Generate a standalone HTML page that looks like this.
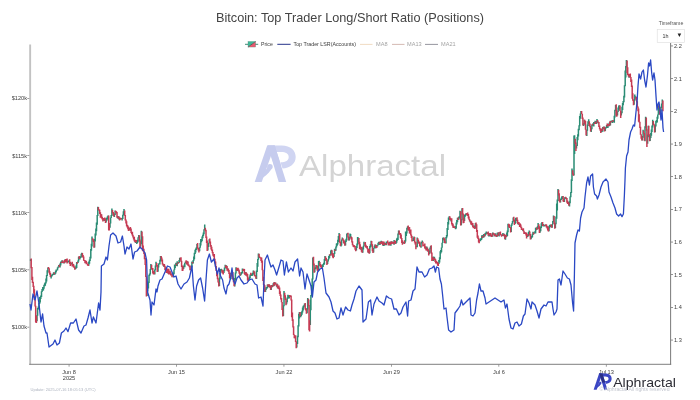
<!DOCTYPE html>
<html lang="en">
<head>
<meta charset="utf-8">
<title>Bitcoin: Top Trader Long/Short Ratio (Positions)</title>
<style>
html,body{margin:0;padding:0;background:#fff;}
body{width:700px;height:400px;overflow:hidden;position:relative;font-family:"Liberation Sans",sans-serif;}
svg{position:absolute;left:0;top:0;display:block;will-change:transform;}
.tk{font-family:"Liberation Sans",sans-serif;font-size:5.6px;fill:#3c3c3c;}
.title{font-family:"Liberation Sans",sans-serif;font-size:12.6px;fill:#444;}
.lg{font-family:"Liberation Sans",sans-serif;font-size:5.6px;fill:#3a3a3a;}
.lgm{font-family:"Liberation Sans",sans-serif;font-size:5.6px;fill:#a4a4a4;}
</style>
</head>
<body>
<svg width="700" height="400" viewBox="0 0 700 400">
<rect width="700" height="400" fill="#ffffff"/>
<!-- watermark -->
<g transform="translate(254.7,145.5) scale(1.0)">
<path d="M12.5 0 L20 0 L7 36.5 L0 36.5 Z" fill="#c6ccee"/>
<path d="M4 30.5 C8 27.5 11 25 13.5 21 L16.5 24 C13.5 28.5 9 32 5 34 Z" fill="#c6ccee"/>
<circle cx="15.2" cy="21.2" r="2.8" fill="#c6ccee"/>
<path d="M18.5 0 L27 0 C36 0 41 5 41 11.5 C41 18.5 35 22.5 27.8 23 L25.8 16.8 C31 16.8 34 15 34 11.5 C34 8 31 6.5 26.5 6.5 L20.5 6.5 Z" fill="#d0d5f2"/>
<path d="M13 0 L20 0 L31.5 36.5 L24 36.5 Z" fill="#c6ccee"/>
<path d="M13 0 L20 0 L26.5 20.5 L19.6 20.5 Z" fill="#c6ccee"/>
</g>
<text x="299" y="175.6" font-family="Liberation Sans, sans-serif" font-size="29.5" fill="#d4d4d4" textLength="147" lengthAdjust="spacingAndGlyphs">Alphractal</text>
<!-- title -->
<text x="350" y="22" text-anchor="middle" class="title" textLength="268" lengthAdjust="spacingAndGlyphs">Bitcoin: Top Trader Long/Short Ratio (Positions)</text>
<!-- legend -->
<g>
<line x1="245" y1="44.3" x2="258.2" y2="44.3" stroke="#2c7f68" stroke-width="0.9"/>
<path d="M248 41.5 L255.6 41.5 L248 47.1 Z" fill="#3db897"/>
<path d="M255.6 41.5 L255.6 47.1 L248 47.1 Z" fill="#e85a70"/>
<line x1="248" y1="47.1" x2="255.6" y2="41.5" stroke="#3a5a50" stroke-width="0.7"/>
<rect x="248" y="41.5" width="7.6" height="5.6" fill="none" stroke="#4a7f70" stroke-opacity="0.6" stroke-width="0.5"/>
<text x="261" y="46.4" class="lg" textLength="11.8" lengthAdjust="spacingAndGlyphs">Price</text>
<line x1="277.3" y1="44.3" x2="290.6" y2="44.3" stroke="#26328a" stroke-width="1"/>
<text x="293.5" y="46.4" class="lg" textLength="62.5" lengthAdjust="spacingAndGlyphs">Top Trader LSR(Accounts)</text>
<line x1="360" y1="44.4" x2="372.5" y2="44.4" stroke="#ecd2b4" stroke-width="0.8"/>
<text x="376" y="46.4" class="lgm">MA8</text>
<line x1="392" y1="44.4" x2="404.5" y2="44.4" stroke="#c9a8a0" stroke-width="0.8"/>
<text x="407" y="46.4" class="lgm">MA13</text>
<line x1="425" y1="44.4" x2="438" y2="44.4" stroke="#7b7b86" stroke-width="0.8"/>
<text x="441" y="46.4" class="lgm">MA21</text>
</g>
<!-- timeframe dropdown -->
<text x="671" y="24.6" text-anchor="middle" font-family="Liberation Sans, sans-serif" font-size="5.2" fill="#555">Timeframe</text>
<rect x="657.2" y="29.6" width="27.2" height="12.9" fill="#fff" stroke="#dcdcdc" stroke-width="0.6"/>
<text x="662.6" y="38" font-family="Liberation Sans, sans-serif" font-size="5.4" fill="#333">1h</text>
<path d="M677.6 33.6 L681.2 33.6 L679.4 37 Z" fill="#222"/>
<!-- axes -->
<rect x="29.2" y="44.5" width="1.9" height="320" fill="#c2c2c2"/>
<rect x="29.2" y="363.8" width="642" height="1" fill="#7f7f7f"/>
<rect x="670.2" y="43" width="0.9" height="321.5" fill="#6a6a6a"/>
<rect x="27.3" y="98" width="2" height="0.7" fill="#777"/>
<text x="27" y="100.3" text-anchor="end" class="tk">$120k</text>
<rect x="27.3" y="155.2" width="2" height="0.7" fill="#777"/>
<text x="27" y="157.5" text-anchor="end" class="tk">$115k</text>
<rect x="27.3" y="212.3" width="2" height="0.7" fill="#777"/>
<text x="27" y="214.7" text-anchor="end" class="tk">$110k</text>
<rect x="27.3" y="269.5" width="2" height="0.7" fill="#777"/>
<text x="27" y="271.9" text-anchor="end" class="tk">$105k</text>
<rect x="27.3" y="326.8" width="2" height="0.7" fill="#777"/>
<text x="27" y="329.1" text-anchor="end" class="tk">$100k</text>
<rect x="671" y="45.6" width="2" height="0.7" fill="#666"/>
<text x="674" y="48" class="tk">2.2</text>
<rect x="671" y="78.3" width="2" height="0.7" fill="#666"/>
<text x="674" y="80.7" class="tk">2.1</text>
<rect x="671" y="111" width="2" height="0.7" fill="#666"/>
<text x="674" y="113.3" class="tk">2</text>
<rect x="671" y="143.7" width="2" height="0.7" fill="#666"/>
<text x="674" y="146" class="tk">1.9</text>
<rect x="671" y="176.3" width="2" height="0.7" fill="#666"/>
<text x="674" y="178.7" class="tk">1.8</text>
<rect x="671" y="209" width="2" height="0.7" fill="#666"/>
<text x="674" y="211.4" class="tk">1.7</text>
<rect x="671" y="241.7" width="2" height="0.7" fill="#666"/>
<text x="674" y="244" class="tk">1.6</text>
<rect x="671" y="274.3" width="2" height="0.7" fill="#666"/>
<text x="674" y="276.7" class="tk">1.5</text>
<rect x="671" y="307" width="2" height="0.7" fill="#666"/>
<text x="674" y="309.4" class="tk">1.4</text>
<rect x="671" y="339.7" width="2" height="0.7" fill="#666"/>
<text x="674" y="342" class="tk">1.3</text>
<rect x="68.7" y="364.5" width="0.7" height="2.2" fill="#777"/>
<text x="69" y="374" text-anchor="middle" class="tk">Jun 8</text>
<rect x="176.2" y="364.5" width="0.7" height="2.2" fill="#777"/>
<text x="176.5" y="374" text-anchor="middle" class="tk">Jun 15</text>
<rect x="283.6" y="364.5" width="0.7" height="2.2" fill="#777"/>
<text x="284" y="374" text-anchor="middle" class="tk">Jun 22</text>
<rect x="391" y="364.5" width="0.7" height="2.2" fill="#777"/>
<text x="391.4" y="374" text-anchor="middle" class="tk">Jun 29</text>
<rect x="498.5" y="364.5" width="0.7" height="2.2" fill="#777"/>
<text x="498.9" y="374" text-anchor="middle" class="tk">Jul 6</text>
<rect x="605.9" y="364.5" width="0.7" height="2.2" fill="#777"/>
<text x="606.3" y="374" text-anchor="middle" class="tk">Jul 13</text>
<text x="69" y="380.4" text-anchor="middle" class="tk">2025</text>
<!-- series -->
<path fill="none" stroke="#2a8c74" stroke-width="1.5" d="M30.6 259.2V261M37 314.9V321.3M37.6 307.9V315.8M38.3 306.5V309.6M38.9 303V307.6M39.6 297V304M40.2 296.8V302.5M40.8 295.5V299M41.5 291.2V297.1M42.1 289.1V291.9M42.8 286.9V290.7M43.4 287.5V290.4M44 284.7V288.8M44.7 283.2V286.2M45.3 282.2V285.7M46 278.5V283.6M46.6 275.1V281.6M47.2 270.3V276M47.9 267.4V272.2M51.1 275.1V278.4M51.7 274.7V276.8M52.4 273.7V275.8M53 273.7V275M53.6 272.3V275.1M54.9 272.4V274.7M55.6 270.7V273.7M56.2 269.4V272.2M56.8 269.8V270.1M57.5 267.5V270.4M58.1 266.4V268.2M58.8 265V266.4M60 263.6V267.6M60.7 261.5V265.6M62 260.3V263.3M63.9 261.2V263.6M65.2 259.1V262.5M66.4 259.4V262.2M67.7 261.1V262.7M68.4 261.2V262.3M69 260.2V262.1M70.9 262.8V264.8M71.6 262.7V264M72.8 263.8V265.8M75.4 267.4V269.2M76 265.5V268.7M76.7 262V267.9M78 260.4V263.1M78.6 256.8V261.4M79.9 256.9V259.6M80.5 256.2V257.9M81.2 253.8V257.4M81.8 252.8V254.4M88.8 261.5V265.8M89.5 259.4V263.7M90.1 256.7V261M90.8 248.9V258.5M91.4 243.8V250.7M92 236.6V246.5M94.6 239V247.4M95.2 233.6V241.5M95.9 228.6V235.5M96.5 222.5V231.3M97.2 214.9V224.8M97.8 206.7V216.1M101 214.3V216.3M104.2 218V221.1M106.1 218V222.5M106.8 217.8V220.7M107.4 216.6V219.4M108 215.6V217M110 223.3V227.8M110.6 217.4V223.6M111.2 215V218.1M111.9 208.6V216M114.4 213.8V217M115.1 210.4V214.9M117.6 216.1V218.4M118.9 216.3V219.5M120.2 218V218.9M121.5 218V219M122.1 218.5V220.6M122.8 214.7V219.1M123.4 211.3V215.5M124 209V213.2M129.8 228.1V230.5M135.6 240V242.9M136.8 241.3V244.1M137.5 239.8V243M138.1 237.3V241.7M138.8 235V238.1M140.7 241.3V246.4M141.3 230.8V244.2M147.1 290V296M147.7 282.7V291.5M148.4 281.4V288.6M149 274.8V283.1M149.6 273.5V275.9M150.3 269V274.5M150.9 263.9V269.8M154.8 269.5V274.6M155.4 265.6V270.3M156 261.8V266.8M158 266.3V271.7M158.6 263.8V267.4M159.2 263.1V264.4M159.9 259.7V264.5M160.5 255.9V261.4M163.7 264.4V266.7M165.6 268V270.7M166.9 269.1V272.7M168.2 269.5V273.8M169.5 271.6V273.4M171.4 273.4V274.5M173.3 272.5V277.2M174 269.4V274.2M174.6 264.4V269.8M175.2 265V267.9M175.9 262.8V266.1M177.2 261.3V266.3M177.8 262.5V263.7M179.1 260.1V263.1M179.7 257.7V262.1M183.6 265.9V269M184.2 264.4V266.4M184.8 262.7V267.3M185.5 261.6V263.2M187.4 261.2V264.4M191.2 265.7V270.1M191.9 261.6V267.5M193.2 260V263.6M193.8 256.6V260.7M194.4 252.7V259.2M195.1 249.8V254.1M195.7 248.6V252.4M196.4 247.2V250M197 244V247.6M199.6 247.2V251.3M200.2 243V247.8M200.8 238.9V245.6M201.5 239V242.3M202.1 236.6V241.1M202.8 234.8V238.3M203.4 232.6V236.1M204 229.2V234.2M204.7 224.5V230.1M207.9 244.5V250.4M208.5 242.7V246.9M209.2 239.3V243.6M219.4 277.5V286.1M220 272.9V279.2M220.7 269V273.2M221.3 268.8V270.9M223.9 269.7V273.1M224.5 267.6V271.3M225.2 264.8V268.2M226.4 265.2V268.8M227.7 268.4V270.2M230.9 272.9V279.3M232.2 271.8V275.7M234.8 278V286.4M235.4 272.5V280.2M236 267.2V273.5M237.3 268.1V270.9M240.5 273.9V275.7M241.2 272.7V274.7M241.8 272V273.8M242.4 268.5V273.2M245.6 272.1V275.4M248.8 279.4V281M249.5 276.6V279.7M250.1 274.5V278.5M251.4 273.8V275.9M252 273.5V276.1M252.7 272.7V275.4M253.3 270.5V274.6M256.5 270.4V279M257.2 263V271.9M257.8 259V266.7M258.4 253.4V259.8M265.5 288.6V292.1M266.1 287V290.1M266.8 287.6V288.7M267.4 284.4V288.2M268.7 284.6V287M270 286.2V287.4M271.2 284.9V290.1M272.5 285.1V287.1M273.2 283.3V286.3M274.4 282.1V285.8M277 283.5V287.3M278.3 286.2V288.4M283.4 305.2V316.1M284 291V306.3M286.6 300.8V304.2M287.2 297.6V302.3M287.9 294.8V298.7M288.5 296.4V298M289.2 295.3V298.5M290.4 295.7V296.7M294.9 336.7V338.3M296.8 342V347.5M297.5 335.7V344.1M298.1 325.3V337.2M298.8 313.8V326.6M299.4 311.9V318.4M300.7 314.8V317.3M301.3 312.1V316M302 310.8V314.7M302.6 307.4V312.5M303.2 305.8V310.4M303.9 305.2V307.4M304.5 303.5V306.5M307.1 307.9V313.2M307.7 297.9V309.5M310.3 299.8V324.9M310.9 294.9V310.2M311.6 284.9V296.2M312.2 278.5V291.5M312.8 257.4V279.5M314.8 267.7V272.2M315.4 267.2V269.2M316 264.9V269.2M318.6 261.1V270.6M319.2 260.8V265.7M321.8 266.1V268.9M322.4 264.3V267.4M323.1 264.6V267M323.7 262.8V265M324.4 259V264.6M325 256V261M327.6 260.8V264M328.2 259.1V261.5M328.8 256V259.6M329.5 254.5V258.3M330.8 250.4V255.4M331.4 249.8V253.9M334 253.1V257.1M334.6 248.7V254.1M335.9 246.4V250.8M336.5 243.5V247.4M337.2 242.9V245.7M337.8 239.8V244.4M338.4 236V242.1M339.1 233V238.7M341 244.1V246.5M341.6 239.6V245.4M342.3 237.5V240M345.5 240.6V245.4M346.1 238.8V242.1M346.8 233.8V240.4M347.4 232.9V234.6M349.3 236.9V240.4M350 233.4V238.4M350.6 233.9V237.6M356.4 245.9V250.6M357 243.6V247.9M357.6 237V245.2M358.3 237.5V242.1M360.8 247.4V249.8M362.8 247.3V252.7M363.4 245.7V249.4M364 241.8V246.1M366.6 246.2V247.6M368.5 250.2V253M369.8 246.1V253.2M370.4 244.3V247.4M371.1 240.8V246.7M373.6 247.9V252.6M374.3 246.2V248.2M374.9 244.5V248.4M376.2 245.1V248.3M377.5 245.2V246.6M378.1 242.8V245.3M378.8 241.8V244.7M380 241.4V244.9M381.3 240.8V243.7M383.2 242.7V246M384.5 242.5V245.8M385.2 243.1V244.6M386.4 241.4V245.3M387.1 241.4V243.1M389.6 241.8V245.5M390.9 241.5V245.7M392.2 241.5V243.5M394.1 240.1V244.8M396 241.7V243.7M396.7 238.6V242.8M397.3 237.8V240.8M398 233.4V239.9M398.6 230.4V234.4M403.1 242.2V243.7M403.7 241.9V242.3M405 239.9V243.3M405.6 231.4V241.5M406.3 231.6V236M406.9 227.7V233.5M407.6 226.3V229.4M408.8 227.9V230.6M410.1 229.9V233.4M412.7 240V241M413.3 237.7V240.9M414 236.6V238.2M416.5 245.7V247.2M417.2 237.6V247.2M419.1 242V242.9M421 242.5V247.7M421.6 241.7V243.6M422.3 240.5V242.4M424.2 244.6V245.4M426.8 246.6V249.4M428 248.8V251.8M429.3 250.8V254.2M430 247.6V252.8M430.6 245.9V248.9M433.2 256.4V261.1M434.4 256.7V260.2M438.9 260.1V264.1M439.6 257.3V262.5M440.2 251.3V259.3M440.8 250V253.4M441.5 247.6V252.2M442.1 242.8V247.8M442.8 237.8V243.1M443.4 237.5V239.8M446 236.9V243.5M446.6 235.1V238.2M447.2 228V236.6M447.9 222.1V230M448.5 217.6V224.4M449.2 216.3V220.1M451.1 219.1V221.5M453.6 225.4V228M455.6 226.1V229.3M456.2 222.4V228.6M456.8 219.9V224.6M457.5 217.8V222.3M458.8 216.7V219.7M459.4 216.2V218.5M460 210.8V217.5M461.3 219V225.2M462 208.2V220.2M464.5 215.1V220.9M465.2 214.1V216.8M465.8 213.5V215.4M467.1 212.9V215.4M470.3 220.5V222.5M472.2 223.1V225.4M474.1 225.6V228.1M475.4 222.9V228.4M479.9 239.7V241.3M480.5 238.3V241.2M481.2 238.2V239.9M481.8 235.2V239.6M483.1 235V237.5M483.7 234.1V237.7M485 233.2V236.2M485.6 232.8V234.9M486.3 231.5V234.3M487.6 232.2V234M488.8 233.1V236.5M490.1 233.4V236.5M492.7 232.6V236.7M495.2 233.3V236.6M497.2 232.7V236.7M497.8 232.4V234.3M499.1 232.2V236.6M502.3 234.5V236.1M502.9 233V235.6M504.2 233.7V236.4M505.5 235.2V239.8M506.8 232.5V236.8M507.4 230.5V235.9M508 223.7V232.3M511.2 224.8V232.1M511.9 223.2V225.8M512.5 220.9V223.7M513.2 217.4V221.8M515.1 220.5V223.9M515.7 217.7V222.9M516.4 218.1V221M518.3 222.8V224.8M522.8 228.9V230.7M524.7 232.3V233.7M527.2 234.8V237.1M528.5 231.9V236.4M529.2 230.5V233.4M531.1 237.3V239.2M531.7 235.8V237.9M532.4 233.7V237.2M533 231.7V235M534.3 232.4V233.8M534.9 231.3V233.3M535.6 227.8V233.4M536.2 227.6V230.2M537.5 226.2V229.5M538.1 222.9V227.6M540 229V232.7M540.7 226.6V231.3M541.3 223.2V228.1M542 222.1V224.2M543.2 224.1V226.5M544.5 224.7V226.4M545.2 224.6V226.3M549 225.9V231.2M549.6 224.9V228.2M550.3 224.5V227.1M552.2 224V227.7M552.8 220.9V224.6M553.5 215.6V222.3M555.4 222.9V228.1M556 216.4V224.2M556.7 203.6V218.8M557.3 199.4V210.4M558 188.9V201M560.5 198.9V202.6M561.2 197.8V200M561.8 196.6V198.8M562.4 196.1V198.9M564.4 198.3V202M565 197.1V199M566.3 197.4V199.3M568.2 201.7V204M569.5 201.3V206.4M570.1 196.5V203.2M570.8 191.9V197.2M571.4 179.2V193.1M572 168.6V181M574 135.6V175.6M574.6 135.3V154M576.5 145.2V148.4M577.2 137.1V146M577.8 134.2V140.2M578.4 128.7V136.4M579.1 125.2V130.3M579.7 115.9V126.2M580.4 113.4V118.8M581 111.1V114.3M583.6 123.3V126M584.2 119.8V124.7M586.8 129.7V136M587.4 124.6V130.8M588 121.2V126M588.7 119.2V123.9M591.2 127.7V132.1M591.9 124.4V129.3M593.2 123V125.7M593.8 122V126.6M595.1 120.7V123.9M596.4 121V124M597 119V122.4M598.3 121.4V123.6M601.5 129.2V132.3M602.8 126.9V131.7M604 126.6V129.1M605.3 127.7V131M606 126.9V128.6M606.6 125.1V128.1M607.9 123.7V128.1M609.2 122.8V126.2M610.4 120.8V125.5M611.7 120.4V122M612.4 120.2V122.9M613.6 120.4V122.2M614.3 115.7V122.7M614.9 109.8V117.5M615.6 104.9V111.1M617.5 111.4V115.6M618.1 107.5V112M618.8 105.4V110.3M619.4 105.3V109.3M621.3 111.6V115.4M622 106.7V113.2M622.6 102.9V110.1M623.2 100.9V105.2M623.9 95.7V102.3M624.5 85.2V97.5M625.2 70.6V86.3M625.8 65.9V77.6M626.4 60V67.6M629 74.1V77.8M634.1 98.9V104.7M634.8 94.5V100.7M635.4 96.2V98.6M642.4 135.9V140.5M643.1 129.8V137.7M645 126.3V141.3M645.6 116.7V128.1M647.6 134.5V143.7M648.2 125.8V137.3M650.1 135.9V141M650.8 133.1V137.9M651.4 129.4V135.8M652 125.6V131.9M652.7 119.7V127.4M655.2 124.8V132.3M655.9 120.9V126.4M656.5 119.9V122.8M657.2 116.8V122.4M657.8 114.5V118.8M658.4 105.4V114.8M660.4 109.7V114.3M661 106.8V111.4M661.6 103.6V108.1M662.3 99.6V104.3"/>
<path fill="none" stroke="#c63b53" stroke-width="1.5" d="M31.2 258.6V268.3M31.9 267V280.1M32.5 276.8V283M33.2 281.7V286.9M33.8 285.8V293.4M34.4 289.3V299.9M35.1 297.1V306.4M35.7 305.7V322.5M36.4 316.1V322.9M48.5 267.1V269M49.2 268.3V273.3M49.8 271.3V274.8M50.4 273.1V277.1M54.3 272.4V274.3M59.4 264.7V267.3M61.3 262V263M62.6 260.5V262.8M63.2 262V263M64.5 259.9V263.3M65.8 258.9V262.1M67.1 258.5V263.5M69.6 259.2V263.9M70.3 261.7V265.9M72.2 261.7V266.4M73.5 264V267.4M74.1 265.5V267.7M74.8 267V269.8M77.3 262V263.8M79.2 256V259.1M82.4 252.9V257.2M83.1 255.1V257.8M83.7 256.4V260.7M84.4 259.9V261M85 260.4V263.2M85.6 260.3V262.7M86.3 261.1V264.2M86.9 262.3V264.3M87.6 263.7V265.4M88.2 264V266M92.7 238.2V240.2M93.3 239.2V242M94 240.7V247.7M98.4 207V210.1M99.1 209.2V211.1M99.7 209.8V214.1M100.4 212.2V217.7M101.6 214.3V218.4M102.3 216.8V219.5M102.9 218.1V221.4M103.6 218V220.5M104.8 217.6V220.2M105.5 219.1V223.1M108.7 215.4V230.5M109.3 222.9V230.4M112.5 210.1V213.3M113.2 212V215.3M113.8 213.1V216.5M115.7 210.8V212.6M116.4 211.3V213.5M117 212.1V217.8M118.3 216.2V218.7M119.6 217.3V220.4M120.8 217.8V219.8M124.7 210.5V215.8M125.3 215.1V220.6M126 219.4V223.5M126.6 221.3V226.2M127.2 224.8V227.5M127.9 225.5V229.2M128.5 226.8V230.9M129.2 228.5V230.1M130.4 227V230.8M131.1 228.5V233M131.7 232V234.2M132.4 231.8V235.7M133 234.8V237.6M133.6 236.4V239.4M134.3 236.8V241.2M134.9 239.4V242.3M136.2 240V242.4M139.4 235.3V241.6M140 239.5V248.3M142 231.6V236.8M142.6 236.2V250.9M143.2 245.5V251.5M143.9 248.8V254M144.5 252.2V259.2M145.2 258.1V264.9M145.8 264.1V277.1M146.4 276.2V296.5M151.6 264.8V269.3M152.2 268.6V269.8M152.8 267.9V273.6M153.5 271V274.4M154.1 272V274.1M156.7 263.1V266.5M157.3 265V272.1M161.2 256V258.7M161.8 257.5V261.6M162.4 259.6V264.6M163.1 263.4V265.7M164.4 264V267M165 265.7V269.9M166.3 267.3V273M167.6 268.4V273.3M168.8 268.8V274.6M170.1 270.8V274.6M170.8 272.2V275.6M172 273.9V277.3M172.7 275.5V276.3M176.5 263.6V265.6M178.4 261.9V263.4M180.4 257.7V260.2M181 257.2V261.5M181.6 260.7V267M182.3 265.4V271.1M182.9 265.8V270.7M186.1 260.3V263.5M186.8 260.7V264.4M188 261.4V265.8M188.7 264.2V266M189.3 265.5V267.3M190 265.4V270.2M190.6 269.1V270M192.5 262V263.5M197.6 243V248.7M198.3 247.7V250.6M198.9 248.8V252.4M205.3 227.7V231.2M206 229.8V237.9M206.6 236.6V243M207.2 240.5V251M209.8 238.4V243M210.4 241.5V246.7M211.1 244.9V249.5M211.7 246.8V250.8M212.4 249.4V253.3M213 251.9V255.8M213.6 255V256.8M214.3 253.9V259.9M214.9 258.7V263.2M215.6 261.4V267M216.2 265.9V271M216.8 270.5V276.3M217.5 273.6V279.2M218.1 278.2V282.5M218.8 281.8V286.5M222 269.4V272.4M222.6 270.2V273.5M223.2 270.6V274.5M225.8 265.3V268.1M227.1 265.9V270.8M228.4 268.4V272.1M229 270V274M229.6 272.5V278.2M230.3 276.5V279.4M231.6 272.1V276.6M232.8 271.9V279.4M233.5 277.8V282.2M234.1 281V286.2M236.7 267.7V270.9M238 267.7V269.7M238.6 268.7V271.5M239.2 270.2V273.8M239.9 272V275.8M243.1 269.5V270.9M243.7 268.7V270.8M244.4 269.1V274.1M245 272.7V275.1M246.3 272.3V275.4M246.9 273.2V276.5M247.6 274V280.4M248.2 277.4V281.4M250.8 272.7V275.3M254 270.8V273.4M254.6 271.8V276.3M255.2 275.1V276.6M255.9 276.3V278.8M259.1 253.8V257M259.7 256.6V258M260.4 257.5V258.6M261 257.2V260.9M261.6 257.6V262.8M262.3 260.6V270.2M262.9 269.7V281M263.6 276.7V284.9M264.2 284.3V286.8M264.8 285.3V292M268 284.2V286.4M269.3 284.3V287.6M270.6 285.5V290.1M271.9 285V287.5M273.8 282.6V286.2M275.1 282.2V284.4M275.7 282.6V284.7M276.4 284.3V286.3M277.6 284.2V288.4M278.9 285.5V289.3M279.6 287.6V293.9M280.2 291.3V295.9M280.8 294.4V299.5M281.5 297.9V302.3M282.1 301.9V309.9M282.8 308.4V316.5M284.7 292.7V297.4M285.3 295.3V300.1M286 298.7V305.3M289.8 295V296.9M291.1 295.5V300.6M291.7 299.4V317.3M292.4 312.4V321M293 319.3V327.6M293.6 326.2V335.1M294.3 334.6V338.3M295.6 335.2V342M296.2 341.3V348.2M300 312.1V316.5M305.2 303.1V309.6M305.8 307.9V310.4M306.4 309.1V313.7M308.4 298.8V306.2M309 305.1V330.2M309.6 320.3V331.5M313.5 256.8V265.4M314.1 263.4V272.7M316.7 265.2V267.8M317.3 265.4V270.8M318 268.6V271.2M319.9 262.1V265.7M320.5 264.1V267M321.2 265V268.6M325.6 256.4V260.4M326.3 258V260.5M326.9 259.7V265.1M330.1 254V255.4M332 250.3V255.4M332.7 253.1V257.5M333.3 253.9V258.2M335.2 249.6V251.1M339.7 234V242.8M340.4 241.5V246.1M342.9 238.2V240.7M343.6 239.6V243.1M344.2 240.6V243.9M344.8 242.4V245.8M348 232.8V237.4M348.7 236.6V240.6M351.2 236.4V239.6M351.9 237.2V242.5M352.5 241.2V245.3M353.2 244.5V246.7M353.8 245.1V247.3M354.4 245.3V247.2M355.1 246.1V249.7M355.7 248.2V251.2M358.9 237.9V244.1M359.6 241.8V249.3M360.2 244.3V248.9M361.5 246.7V251.8M362.1 249.7V252.8M364.7 242.9V244.2M365.3 242V246.9M366 244.8V247.8M367.2 246V249.3M367.9 248.2V252.6M369.2 249V253.7M371.7 241.1V245.2M372.4 244.2V251.2M373 249V252.9M375.6 244.6V247.7M376.8 245.8V248M379.4 242.2V244.3M380.7 241.8V244M382 241.2V243.6M382.6 241.2V245.3M383.9 241.6V245.1M385.8 243V245.1M387.7 240.5V243.5M388.4 242.2V245.4M389 242.8V245.2M390.3 241.7V245M391.6 241.2V243.9M392.8 242.1V243.4M393.5 241.8V244.3M394.8 240.4V242.9M395.4 240.8V244.1M399.2 230.4V234.7M399.9 233.1V234.4M400.5 232.9V238.3M401.2 234.4V239M401.8 238V242.9M402.4 240.3V244.8M404.4 240.7V243.9M408.2 225.5V230.4M409.5 226.9V233.5M410.8 229.6V235.6M411.4 234.4V237.9M412 236V241.4M414.6 237V242.6M415.2 241.5V244.6M415.9 241.8V249.3M417.8 238.3V241M418.4 239.8V243.8M419.7 241.5V246.2M420.4 245.5V247.1M422.9 241.8V246.4M423.6 244.7V245.9M424.8 243.5V248.5M425.5 246.2V249.3M426.1 248.8V250.5M427.4 247.6V251.2M428.7 249.4V255.4M431.2 245.3V253.7M431.9 252.4V261.1M432.5 257.1V260.8M433.8 257.4V260.1M435.1 258.5V262M435.7 259.4V263.4M436.4 261V263.6M437 261.8V263.8M437.6 262.1V265.7M438.3 262.9V266.1M444 237.6V240.4M444.7 238.5V243.2M445.3 241.4V243.1M449.8 216.3V219.7M450.4 217.8V220.4M451.7 218.3V224.4M452.4 223.1V226M453 223.8V227.8M454.3 226.3V228M454.9 227.3V228.2M458.1 217.4V219.9M460.7 211.3V225.4M462.6 208V214.6M463.2 213.5V223.3M463.9 218.3V223M466.4 213.3V215M467.7 212.6V216.1M468.4 213.9V218.4M469 216.6V219.8M469.6 219V221.4M470.9 220.8V224.4M471.6 221.4V225M472.8 222.9V227.3M473.5 225.5V228.2M474.8 226.6V228.9M476 222.6V226.2M476.7 224.2V231.9M477.3 230V237.7M478 235.6V239.1M478.6 237.8V242.6M479.2 239.2V243.3M482.4 236.1V238M484.4 234V236.7M486.9 232.7V233.7M488.2 231.6V235.7M489.5 233.2V235.4M490.8 233.1V236M491.4 234.8V237M492 234.5V236.5M493.3 232.7V234.4M494 233.2V235.3M494.6 233.8V236.2M495.9 234.5V236M496.5 234.7V236.9M498.4 232.5V236.1M499.7 232.3V232.9M500.4 231.4V235.2M501 234.2V235.5M501.6 234.5V236.8M503.6 233.7V236.1M504.8 234.4V239.3M506.1 234.8V237.2M508.7 223.8V226.7M509.3 224.2V227.9M510 227V228M510.6 227.3V232.4M513.8 216.8V221M514.4 219.5V225.1M517 217.2V220.9M517.6 219.8V224.1M518.9 221.9V224.5M519.6 223.2V226.9M520.2 223.6V226.2M520.8 224.6V227.7M521.5 226.7V230.1M522.1 228.5V230M523.4 228.2V231.4M524 230.7V233.9M525.3 232.2V234.1M526 232.2V235.6M526.6 232.9V238.4M527.9 234.2V235.9M529.8 231.5V235.4M530.4 234.1V239.4M533.6 232.6V234.5M536.8 227.6V229.8M538.8 224.2V229.1M539.4 226.2V233M542.6 222V226M543.9 225.2V226.1M545.8 224.5V226M546.4 224.3V227.6M547.1 225.7V228.6M547.7 226.4V230.5M548.4 227.3V231.4M550.9 224.8V225.9M551.6 224.5V227.7M554.1 216V224.1M554.8 222.5V228.7M558.6 189.8V195.6M559.2 193.2V201.3M559.9 199.7V202.5M563.1 195.9V201.5M563.7 199.3V201.9M565.6 196.7V199.1M566.9 198.1V202.8M567.6 200.4V203.9M568.8 202.2V205.7M572.7 170.2V174.4M573.3 173.4V175.8M575.2 138.7V144M575.9 142.4V151M581.6 111.1V114M582.3 113.7V119M582.9 117.5V125.6M584.8 119.7V123.7M585.5 121.1V129.8M586.1 129.5V135.5M589.3 121.3V125.9M590 123.6V127.3M590.6 126.1V131.6M592.5 124.1V125.5M594.4 122.5V123.7M595.7 121.5V124M597.6 120V122.8M598.9 122.1V126.9M599.6 125.6V129.3M600.2 128.5V130.8M600.8 128.2V132.9M602.1 128.8V131.1M603.4 126.8V129.2M604.7 126.8V131.5M607.2 123.5V126.8M608.5 123.9V126M609.8 121.6V125.4M611.1 121V122.5M613 120.1V121.8M616.2 104.2V115.8M616.8 110.5V116.8M620 105.6V111.1M620.7 110.7V118.1M627.1 60.6V73.1M627.7 67.2V74.9M628.4 73.8V76.4M629.6 73.9V77.6M630.3 73.5V77.3M630.9 76.9V81.9M631.6 79.6V86.9M632.2 85.4V98.8M632.8 93.2V100.8M633.5 99.9V105.3M636 97V99.7M636.7 96.8V102.5M637.3 101.2V107.6M638 106.4V111.2M638.6 108.6V121.8M639.2 114.2V122.5M639.9 121.7V128.1M640.5 126.8V134.7M641.2 134.3V138.8M641.8 136.3V140.5M643.7 130.8V133.8M644.4 133.1V140.8M646.3 117.6V130.7M646.9 129.2V147M648.8 125.8V135.8M649.5 134.2V141.2M653.3 121.1V125.2M654 123.7V125.6M654.6 125.3V132.4M659.1 104.5V107.7M659.7 107V114.7M662.9 100.4V111.3"/>
<polyline fill="none" stroke="#2a48c4" stroke-width="1.3" stroke-linejoin="round" points="30,304 31,310 33,294 35,300 37,291 39,304 41,322 42.6,314 44,326 46,333 47,333 49,347 53,344 55,340 57,345 59.4,343 61.4,333 64,331 66,328 68,331.6 70.6,323 73.4,323 76,319 78.6,330 81,333 84,326 86,325 88,318 90,310 92,323 93.4,317 96,323 98.6,303 100,310 101,292 101.4,266 104,264 106,257 107.4,260 109,246 110.6,235 113,233 116,236 118,243 120.6,242 122.4,236 124,246 125,254 127,247 129,249 131,244 133,259 134.6,252 137,251 140,247 143,250 145,253 146.6,260 147.6,292 150,300 151,315 152,302 154,305 156,289 157,292 158,286 160,280 162,279 165,272 167.4,266 170,267 172,272 174,277 176,276 178,284 181,289 184,284 187,282 189.4,278 192,266 193.4,286 195,300 196.6,286 198.6,280 200.6,278 202.6,288 204.6,301 206,280 207.4,260 209.4,254 211.4,262 214,259 215.4,266 217.4,274 219,268 220.6,276 222.6,280 224,288 226,294 227.4,286 229,284 230.6,278 232,268 233.4,280 235,284 237,278 239,276 241,280 244,284 247,283 249,280 252,279 255,284 257,285 258.6,298 261,297 263,306 264,280 265,260 267.4,255 269.4,262 271,267 273,265 275,270 276.6,275 279,267 281,260 283,261 284.4,275 286.4,262 288.4,272 291,268 293,271 295,262 297.6,259 299.6,276 301,268 303,272 305,289 307,274 309,280 311,286 312.4,297 314,282 316,280 317.6,272 320,269 322.4,268 324,278 326,293 329,297 331,302 333,311 335,313 337,319 339,318 341,308 343,315 345.6,307 348,310 350.4,311 352,305 354,299 356,291 359,286 362,290 363,322 366,319 368.4,302 370.6,300 372,315 374,304 377,297 379,301 382,303 384,305 386.4,296 389,298 391.6,299 394,309 396.4,309 399,315 401,313 403,307 406,302 407.6,316 408.6,301 411,300 413,291 415,289 417,267 419,272 422,272 424.6,277 427,275 429.4,269 432,268 434,266 435.4,272 436.6,267 438.6,268 440,279 441.4,284 442.6,295 444,309 446,308 447,317 448.6,330 451,332 454,330 455,313 458,309 460,306 461.4,300 463,305 465,303 468,300 470,298 471,315 473,316 475,313 476.6,300 478,293 479.4,284 481,291 483,291 485,298 486,304 489,302 492,300 495,298 498,300 501,302 504,300 505.4,308 507,304 509,319 511,328 513,329 515,323 517,322 519,326 521.4,324 523.4,316 525,314 527,299 529,303 531,309 532,302 535,305 537,311 539,318 541,309 544,305 546,306 548,302 552,302 553,309 554,315 556,312 557,309 558,280 559.4,279 561,285 563,271 565,274 567.4,278 569.4,279 571,285 572.6,303 573.6,311 574.4,275 575,243 576.6,235 578,230 579.4,231 580.6,218 582,212 584,208 585,197 586.6,183 588,177 589.4,185 590.6,176 592.6,174 593.4,187 594.6,194 596.6,196 597.4,199 599,195 601,187 603,182 606,179 608,182 609,192 611,197 613,203 615,208 616.6,214 618.6,216 620.6,214 622,216.6 623.4,214 624.4,195 625,180 625.4,168 626.6,156 628,152 629,140 630.6,132 632,129 633.4,125 634.6,126 636,112 637,102 638,86 639,74 640.6,79 642,72 643.4,70 644.6,80 646,87 647.4,76 648.6,63 649.6,66 650.6,60 651.6,72 652.6,80 654,73 655,80 656,96 657,110 658,104 659,102 660,110 661,120 662,110 663,128 663.6,132"/>
<!-- footer -->
<text x="30.5" y="391" font-family="Liberation Sans, sans-serif" font-size="4.3" fill="#adb3bf" textLength="65" lengthAdjust="spacingAndGlyphs">Update: 2025-07-16 18:05:13 (UTC)</text>
<g transform="translate(593.6,373.6) scale(0.44)">
<path d="M12.5 0 L20 0 L7 36.5 L0 36.5 Z" fill="#3b46c4"/>
<path d="M4 30.5 C8 27.5 11 25 13.5 21 L16.5 24 C13.5 28.5 9 32 5 34 Z" fill="#3b46c4"/>
<circle cx="15.2" cy="21.2" r="2.8" fill="#3b46c4"/>
<path d="M18.5 0 L27 0 C36 0 41 5 41 11.5 C41 18.5 35 22.5 27.8 23 L25.8 16.8 C31 16.8 34 15 34 11.5 C34 8 31 6.5 26.5 6.5 L20.5 6.5 Z" fill="#3b46c4"/>
<path d="M13 0 L20 0 L31.5 36.5 L24 36.5 Z" fill="#3b46c4"/>
<path d="M13 0 L20 0 L26.5 20.5 L19.6 20.5 Z" fill="#2a2f86"/>
</g>
<text x="613.2" y="387" font-family="Liberation Sans, sans-serif" font-size="13.2" fill="#2b2b33" textLength="62.8" lengthAdjust="spacingAndGlyphs">Alphractal</text>
<text x="599.5" y="391.3" font-family="Liberation Sans, sans-serif" font-size="4.6" fill="#c3c6cf" textLength="70" lengthAdjust="spacingAndGlyphs">© Alphractal All rights reserved</text>
</svg>
</body>
</html>
